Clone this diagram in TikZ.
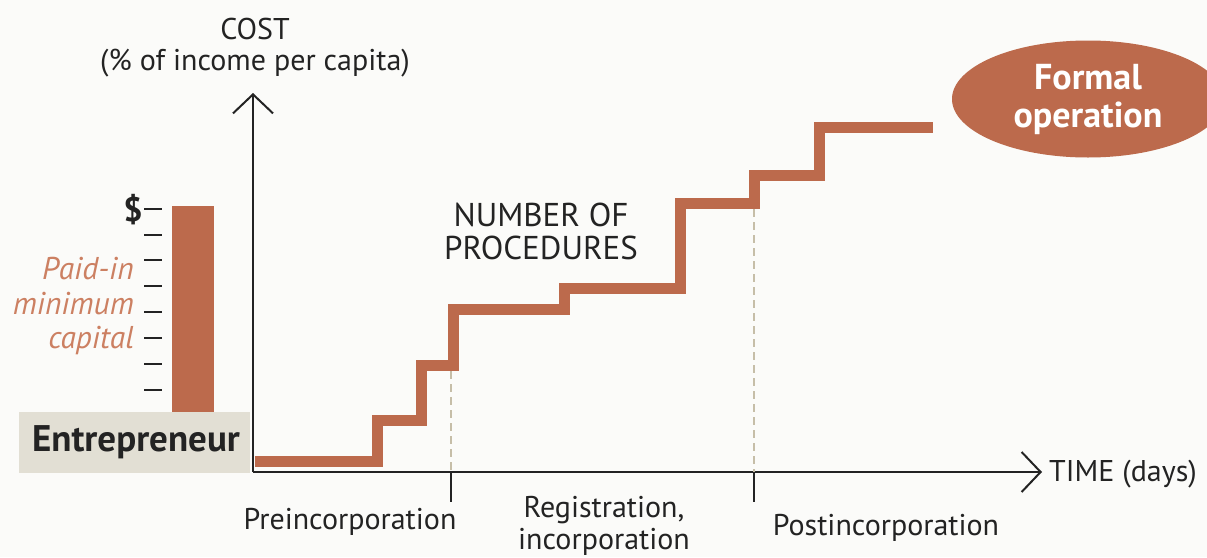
\documentclass[tikz,border=0pt]{standalone}
\usepackage{fontspec}
\setmainfont{PT Sans}
\usetikzlibrary{arrows.meta,shapes.geometric}
\definecolor{rust}{RGB}{188,106,76}
\definecolor{rustlt}{RGB}{204,128,98}
\definecolor{beige}{RGB}{226,223,212}
\definecolor{bgc}{RGB}{251,251,249}
\definecolor{dashc}{RGB}{198,190,168}
\definecolor{ink}{RGB}{35,35,35}
\begin{document}
\begin{tikzpicture}[x=1pt,y=-1pt,
  axisline/.style={draw=ink,line width=2pt,-{Straight Barb[length=19pt,width=40pt]}},
  tickline/.style={draw=ink,line width=2pt},
  captick/.style={draw=ink,line width=2.7pt},
  guide/.style={draw=dashc,line width=2pt,dash pattern=on 8pt off 5pt},
  stair/.style={draw=rust,line width=11pt,line cap=butt,line join=miter},
  lbl/.style={text=ink,inner sep=0pt,font=\fontsize{30}{32}\selectfont,align=center},
  caps/.style={text=ink,inner sep=0pt,font=\fontsize{33}{33}\selectfont,align=center},
  paid/.style={text=rustlt,inner sep=0pt,font=\fontsize{31.5}{34.5}\selectfont\itshape,align=right},
  goal/.style={ellipse,fill=rust,text=white,minimum width=272pt,minimum height=117pt,inner sep=0pt,font=\fontsize{36}{38}\selectfont\bfseries,align=center}
]
\useasboundingbox (0,0) rectangle (1207,557);
\fill[bgc] (0,0) rectangle (1207,557);

% Entrepreneur block and capital bar
\fill[beige] (19,412) rectangle (250,473);
\node[text=ink,inner sep=0pt,font=\fontsize{37}{40}\selectfont\bfseries] (ent) at (136,442) {Entrepreneur};
\fill[rust] (172,206) rectangle (214,412);
\foreach \yy in {209,235,260,286,312,338,364,390} {
  \draw[captick] (144,\yy) -- (162,\yy);
}
\node[text=ink,inner sep=0pt,font=\fontsize{34}{36}\selectfont\bfseries] (dollar) at (133,210) {\$};
\node[paid,anchor=east] (paidin) at (134,306) {Paid-in\\minimum\\capital};

% axes
\coordinate (origin) at (253,472);
\coordinate (ytop) at (253,93);
\coordinate (xend) at (1042,472);
\draw[axisline] (origin) -- (ytop);
\draw[axisline] (origin) -- (xend);

% phase ticks
\coordinate (t1) at (451,472);
\coordinate (t1b) at (451,502);
\coordinate (t2) at (754,472);
\coordinate (t2b) at (754,502);
\draw[tickline] (t1) -- (t1b);
\draw[tickline] (t2) -- (t2b);

% dashed guides
\coordinate (g1) at (451,371);
\coordinate (g2) at (754,209);
\draw[guide] (g1) -- (t1);
\draw[guide] (g2) -- (t2);

% staircase
\draw[stair] (255,461) -- (377.5,461) -- (377.5,420) -- (421,420) -- (421,365)
  -- (453,365) -- (453,309) -- (564,309) -- (564,288) -- (680,288) -- (680,203)
  -- (754,203) -- (754,175) -- (819.5,175) -- (819.5,127) -- (933,127);

% ellipse goal
\node[goal] (formal) at (1088,99) {Formal\\operation};

% labels
\node[lbl] (cost) at (255,29) {COST};
\node[lbl] (costsub) at (255,63) {(\% of income per capita)};
\node[caps] (nproc) at (541,231) {NUMBER OF\\PROCEDURES};
\node[lbl,anchor=west] (time) at (1049,474) {TIME (days)};
\node[lbl] (pre) at (350,522) {Preincorporation};
\node[lbl] (reg) at (604,526) {Registration,\\incorporation};
\node[lbl] (post) at (886,528) {Postincorporation};
\end{tikzpicture}
\end{document}
